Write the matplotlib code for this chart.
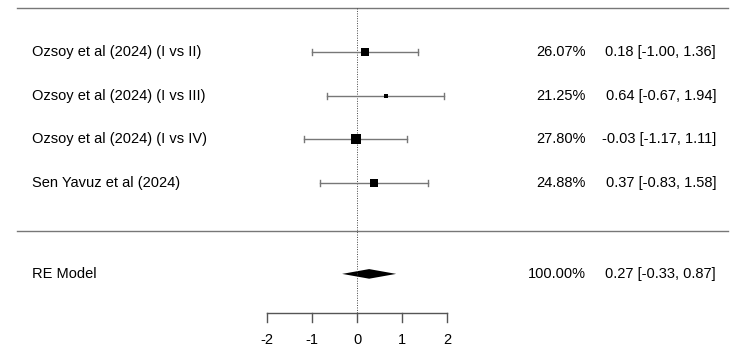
import numpy as np
import matplotlib.pyplot as plt

plt.rcParams['font.family'] = ['Liberation Sans', 'DejaVu Sans']

# study data
studies = ['Ozsoy et al (2024) (I vs II)', 'Ozsoy et al (2024) (I vs III)',
           'Ozsoy et al (2024) (I vs IV)', 'Sen Yavuz et al (2024)']
est = [0.18, 0.64, -0.03, 0.37]
lo = [-1.00, -0.67, -1.17, -0.83]
hi = [1.36, 1.94, 1.11, 1.58]
weights = [26.07, 21.25, 27.80, 24.88]

re_est, re_lo, re_hi = 0.27, -0.33, 0.87
xticks = [-2, -1, 0, 1, 2]

# pixel layout -> data units: 45 px per effect unit, 0 at px 357
W, H = 750, 359
px_x = 45.0
x0 = 357
row_px = 43.7
y1_px = 183

fig = plt.figure(figsize=(W / 100, H / 100), dpi=100)
ax = fig.add_axes([0, 0, 1, 1])
ax.set_xlim(-x0 / px_x, (W - x0) / px_x)
ax.set_ylim(1 - (H - y1_px) / row_px, 1 + y1_px / row_px)
ax.axis('off')

def xp(px):
    return (px - x0) / px_x

k = len(studies)
rows = np.arange(k, 0, -1)
grey = '#777777'
fs = 10.5

# horizontal rules
ax.plot([xp(17), xp(728)], [k + 1, k + 1], color=grey, lw=1)
ax.plot([xp(17), xp(728)], [-0.1, -0.1], color=grey, lw=1)
# reference line
ax.plot([0, 0], [k + 1, -1.97], color='#444444', lw=0.7, ls=(0, (1, 1.5)))

# square sizes proportional to weight
w = np.array(weights)
sizes = 3 + (w - w.min()) / (w.max() - w.min()) * 7

for r, lab, e, l, h, s, wt in zip(rows, studies, est, lo, hi, sizes, weights):
    ax.plot([l, h], [r, r], color=grey, lw=1)
    ax.plot([l, l], [r - 0.07, r + 0.07], color=grey, lw=1)
    ax.plot([h, h], [r - 0.07, r + 0.07], color=grey, lw=1)
    ax.plot(e, r, marker='s', color='black', ms=s * 0.75, mew=0)
    ax.text(xp(32), r, lab, ha='left', va='center', fontsize=fs)
    ax.text(xp(586), r, f'{wt:.2f}%', ha='right', va='center', fontsize=fs)
    ax.text(xp(716), r, f'{e:.2f} [{l:.2f}, {h:.2f}]', ha='right', va='center', fontsize=fs)

# summary diamond
yre = -1.08
dh = 0.11
ax.fill([re_lo, re_est, re_hi, re_est], [yre, yre + dh, yre, yre - dh], color='black', lw=0)
ax.text(xp(32), yre, 'RE Model', ha='left', va='center', fontsize=fs)
ax.text(xp(586), yre, '100.00%', ha='right', va='center', fontsize=fs)
ax.text(xp(716), yre, f'{re_est:.2f} [{re_lo:.2f}, {re_hi:.2f}]', ha='right', va='center', fontsize=fs)

# x axis
ya = -1.97
axc = '#555555'
ax.plot([xticks[0], xticks[-1]], [ya, ya], color=axc, lw=1)
for t in xticks:
    ax.plot([t, t], [ya, ya - 0.2], color=axc, lw=1)
    ax.text(t, ya - 0.62, str(t), ha='center', va='center', fontsize=fs)

fig.savefig('out.png', dpi=100)
